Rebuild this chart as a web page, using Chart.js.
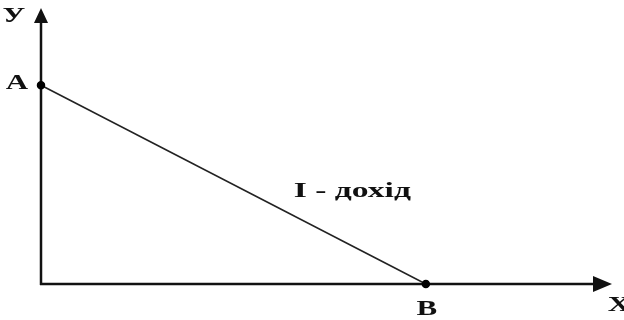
<!DOCTYPE html>
<html>
<head>
<meta charset="utf-8">
<script src="https://cdn.jsdelivr.net/npm/chart.js@4"></script>
<style>
  html, body { margin: 0; padding: 0; background: #fff; }
  #wrap { width: 624px; height: 320px; }
</style>
</head>
<body>
<div id="wrap"><canvas id="chart"></canvas></div>
<script>
'use strict';

// budget line data
var pointNames = ['A', 'B'];
var xValues = [0, 67.4];
var yValues = [72, 0];
var axisNames = ['X', 'У'];
var lineLabel = 'I - дохід';
var labelPos = [54.7, 33.5]; // where the line caption sits (data units)
var axisMax = [100, 100];

// text in the picture is stretched sideways, so draw it scaled
function stretchText(ctx, text, x, y, size, sx) {
  ctx.save();
  ctx.translate(x, y);
  ctx.scale(sx, 1);
  ctx.font = 'bold ' + size + 'px "Liberation Serif", serif';
  ctx.textAlign = 'center';
  ctx.textBaseline = 'middle';
  ctx.fillStyle = '#111';
  ctx.fillText(text, 0, 0);
  ctx.restore();
}

// axes with arrow heads, drawn from the scales
var axesPlugin = {
  id: 'axesArrows',
  beforeDatasetsDraw: function (chart) {
    var ctx = chart.ctx;
    var xs = chart.scales.x, ys = chart.scales.y;
    var x0 = xs.getPixelForValue(0), y0 = ys.getPixelForValue(0);
    var xEnd = xs.getPixelForValue(axisMax[0]);
    var yEnd = ys.getPixelForValue(axisMax[1]);
    ctx.save();
    ctx.strokeStyle = '#111';
    ctx.fillStyle = '#111';
    ctx.lineWidth = 2.5;
    ctx.beginPath();
    ctx.moveTo(x0, y0 + 1);
    ctx.lineTo(x0, yEnd + 10);
    ctx.moveTo(x0 - 1, y0);
    ctx.lineTo(xEnd - 12, y0);
    ctx.stroke();
    // y arrow
    ctx.beginPath();
    ctx.moveTo(x0, yEnd);
    ctx.lineTo(x0 - 7, yEnd + 15);
    ctx.lineTo(x0 + 7, yEnd + 15);
    ctx.closePath();
    ctx.fill();
    // x arrow
    ctx.beginPath();
    ctx.moveTo(xEnd, y0);
    ctx.lineTo(xEnd - 19, y0 - 8);
    ctx.lineTo(xEnd - 19, y0 + 8);
    ctx.closePath();
    ctx.fill();
    ctx.restore();
  },
  afterDatasetsDraw: function (chart) {
    var ctx = chart.ctx;
    var xs = chart.scales.x, ys = chart.scales.y;
    var x0 = xs.getPixelForValue(0), y0 = ys.getPixelForValue(0);
    var xEnd = xs.getPixelForValue(axisMax[0]);
    var yEnd = ys.getPixelForValue(axisMax[1]);
    // point names
    stretchText(ctx, pointNames[0], xs.getPixelForValue(xValues[0]) - 24,
      ys.getPixelForValue(yValues[0]) - 1, 20, 1.55);
    stretchText(ctx, pointNames[1], xs.getPixelForValue(xValues[1]) + 1,
      ys.getPixelForValue(yValues[1]) + 26, 20, 1.55);
    // axis names
    stretchText(ctx, axisNames[0], xEnd + 7, y0 + 22, 20, 1.55);
    stretchText(ctx, axisNames[1], x0 - 27, yEnd + 9, 20, 1.55);
    // line caption
    stretchText(ctx, lineLabel, xs.getPixelForValue(labelPos[0]) - 1,
      ys.getPixelForValue(labelPos[1]), 21, 1.6);
  }
};

var points = xValues.map(function (x, i) {
  return { x: x, y: yValues[i] };
});

new Chart(document.getElementById('chart').getContext('2d'), {
  type: 'scatter',
  data: {
    datasets: [{
      label: lineLabel,
      data: points,
      showLine: true,
      borderColor: '#222',
      borderWidth: 1.5,
      pointRadius: 3.5,
      pointBackgroundColor: '#000',
      pointBorderColor: '#000',
      clip: false
    }]
  },
  options: {
    responsive: true,
    maintainAspectRatio: false,
    animation: false,
    layout: { padding: { left: 41, right: 12, top: 8, bottom: 36 } },
    plugins: {
      legend: { display: false },
      tooltip: { enabled: false }
    },
    scales: {
      x: { type: 'linear', display: false, min: 0, max: axisMax[0] },
      y: { type: 'linear', display: false, min: 0, max: axisMax[1] }
    }
  },
  plugins: [axesPlugin]
});
</script>
</body>
</html>
